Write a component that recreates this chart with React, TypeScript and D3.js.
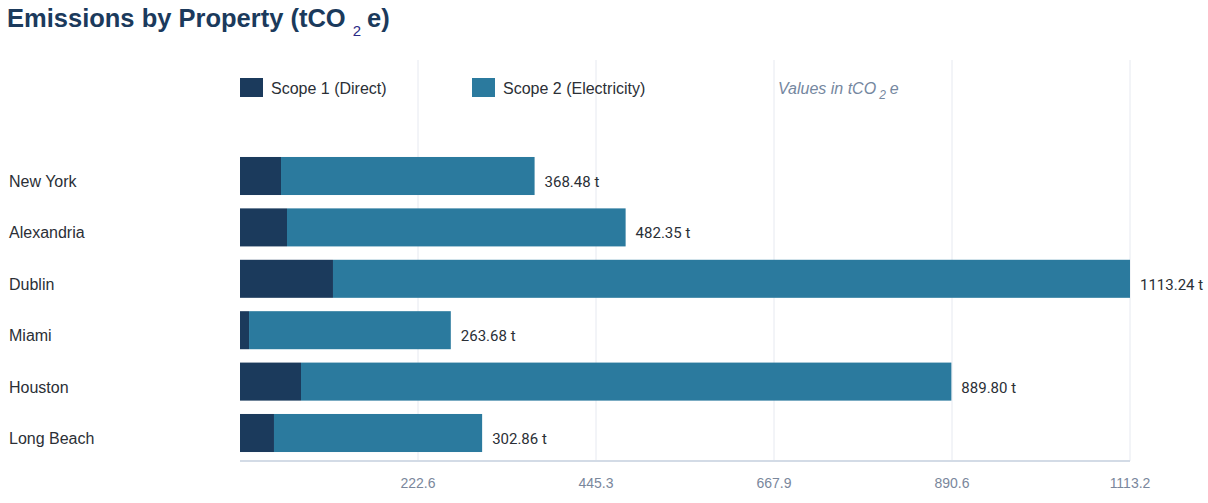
import * as d3 from "d3";

// emissions per site, tCO2e
const properties = ["New York", "Alexandria", "Dublin", "Miami", "Houston", "Long Beach"];
const scope1 = [51.3, 58.8, 116.3, 11.3, 76.3, 42.5];
const totals = [368.48, 482.35, 1113.24, 263.68, 889.8, 302.86];
const scope2 = totals.map((t, i) => +(t - scope1[i]).toFixed(2));

const seriesNames = ["Scope 1 (Direct)", "Scope 2 (Electricity)"];
const seriesColors = ["#1b3a5c", "#2b7a9e"];

const width = 1208;
const height = 503;
const plot = { left: 240, right: 1130, top: 60, bottom: 461 };
const sans = "Liberation Sans, Arial, sans-serif";

export default function App() {
  const maxTotal = d3.max(totals) || 0;
  const x = d3.scaleLinear().domain([0, maxTotal]).range([plot.left, plot.right]);
  const y = d3
    .scaleBand<string>()
    .domain(properties)
    .range([150.3, 458.7])
    .paddingInner(0.26)
    .paddingOuter(0.13);

  const ticks = d3.range(1, 6).map((i) => (maxTotal / 5) * i);
  const stack = d3.stack<number>().keys(["s1", "s2"]).value((i, key) =>
    key === "s1" ? scope1[i] : scope2[i]
  );
  const layers = stack(d3.range(properties.length));

  return (
    <svg
      width={width}
      height={height}
      style={{ position: "absolute", left: 0, top: 0, background: "#fff" }}
      fontFamily={sans}
    >
      <text x={7} y={27} fontSize={25.5} fontWeight="bold" fill="#1b3a5c">
        Emissions by Property (tCO
        <tspan dx={7} dy={9} fontSize={15} fontWeight="normal" fill="#2a2a86">
          2
        </tspan>
        <tspan dx={6} dy={-9}>
          e)
        </tspan>
      </text>

      {/* grid */}
      {ticks.map((t) => (
        <line key={t} x1={x(t)} x2={x(t)} y1={plot.top} y2={plot.bottom} stroke="#e6e9f0" strokeWidth={1} />
      ))}
      <line x1={plot.left} x2={plot.right} y1={plot.bottom} y2={plot.bottom} stroke="#d3dbe6" strokeWidth={2} />
      {ticks.map((t) => (
        <text key={"l" + t} x={x(t)} y={488} textAnchor="middle" fontSize={14} fill="#7a879c">
          {t.toFixed(1)}
        </text>
      ))}

      {/* legend */}
      {seriesNames.map((name, i) => {
        const lx = i === 0 ? 240 : 472;
        return (
          <g key={name}>
            <rect x={lx} y={78} width={23} height={19} fill={seriesColors[i]} />
            <text x={lx + 31} y={94} fontSize={16} fill="#2b2f36">
              {name}
            </text>
          </g>
        );
      })}
      <text x={778} y={94} fontSize={16} fontStyle="italic" fill="#7587a0">
        Values in tCO
        <tspan dx={3} dy={5} fontSize={12}>
          2
        </tspan>
        <tspan dx={4} dy={-5}>
          e
        </tspan>
      </text>

      {/* bars */}
      {layers.map((layer, li) =>
        layer.map((d, i) => (
          <rect
            key={li + "-" + i}
            x={x(d[0])}
            y={y(properties[i])}
            width={x(d[1]) - x(d[0])}
            height={y.bandwidth()}
            fill={seriesColors[li]}
          />
        ))
      )}

      {/* category labels and totals */}
      {properties.map((p, i) => {
        const cy = (y(p) || 0) + y.bandwidth() / 2;
        return (
          <g key={p}>
            <text x={9} y={cy + 11} fontSize={16} fill="#2b2f36">
              {p}
            </text>
            <text x={x(totals[i]) + 10} y={cy + 11} fontSize={15} fontFamily="Roboto, sans-serif" fill="#2b2f36">
              {totals[i].toFixed(2)} t
            </text>
          </g>
        );
      })}
    </svg>
  );
}
